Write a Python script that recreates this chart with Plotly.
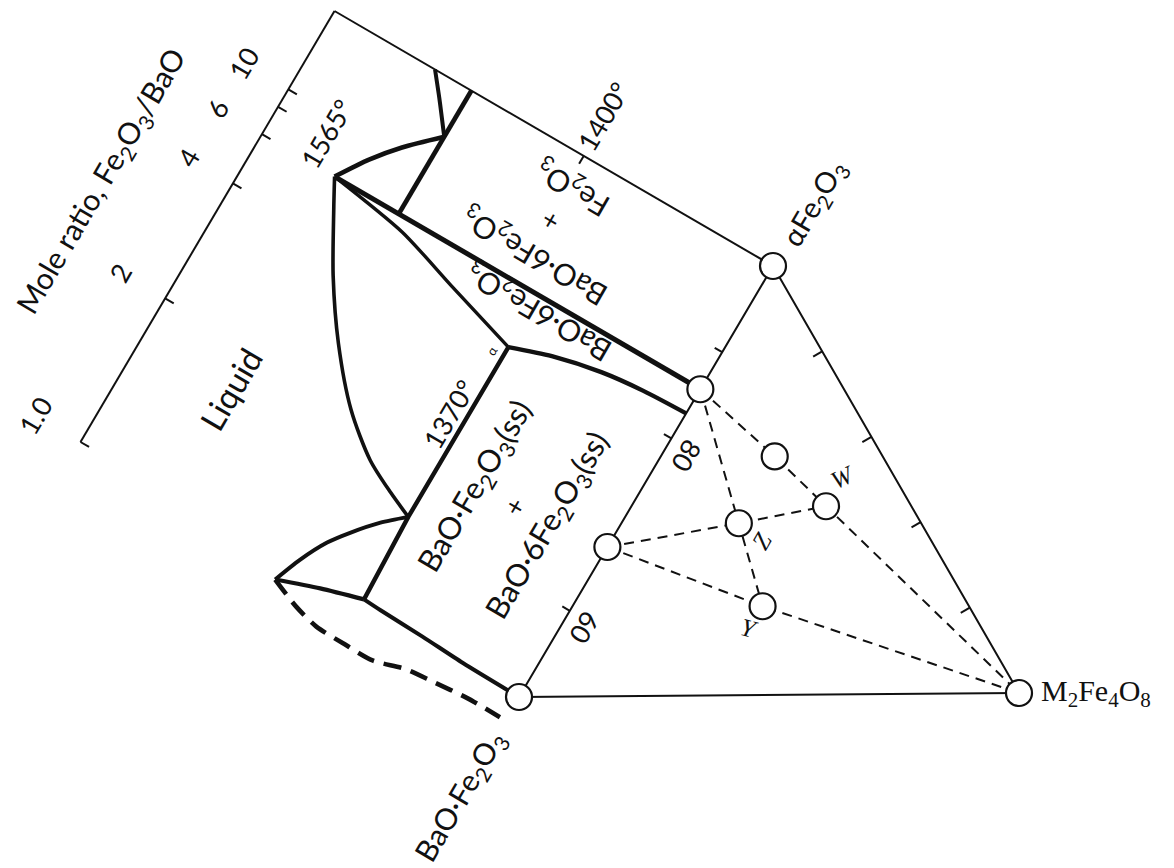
import numpy as np
import plotly.graph_objects as go

# ---------------- data ----------------
# Binary section BaO·Fe2O3 – Fe2O3 : composition in mol % Fe2O3, temperature in °C
T_EDGE = 1223          # temperature on the ternary base line
T_TOP = 1633           # temperature of the mole-ratio scale line
COMP_BAO1 = 50.0       # BaO·Fe2O3
COMP_BAO2 = 67.4       # circle on the edge (BaO·2Fe2O3)
COMP_BAO6 = 85.7       # BaO·6Fe2O3
T_MELT_BAO6 = 1565
T_TICK = 1400

mole_ratio_ticks = [1, 2, 4, 6, 8, 10]
mole_ratio_labels = {1: "1.0", 2: "2", 4: "4", 6: "6", 10: "10"}
edge_ticks = [60, 80, 90]
edge_tick_labels = {60: "60", 80: "80"}

# phase boundaries (comp, T)
liq_left_comp = [85.7, 82.8, 77.0, 71.5, 66.4, 63.0, 61.2, 60.0]
liq_left_T = [1565, 1552, 1525, 1494, 1458, 1424, 1396, 1374]

liq_j1_comp = [85.7, 88.9, 91.6, 94.65]
liq_j1_T = [1565, 1548, 1530, 1505]

liq_fe_comp = [100.0, 97.7, 94.65]
liq_fe_T = [1539, 1524, 1505]

iso1505_comp = [100.0, 94.65, 85.7]
iso1505_T = [1505, 1505, 1505]

liq_e_comp = [85.7, 84.3, 82.1, 79.7]
liq_e_T = [1565, 1495, 1438, 1374]

solvus6_comp = [79.7, 81.1, 82.2, 82.7, 82.9]
solvus6_T = [1374, 1340, 1299, 1262, 1223]

iso1370_comp = [79.7, 60.0, 50.65]
iso1370_T = [1374, 1374, 1371]

liq_b1_comp = [60.0, 58.1, 55.7, 53.7, 50.8, 47.9]
liq_b1_T = [1374, 1391, 1408, 1420, 1432, 1441]

k_j3_comp = [47.9, 49.4, 50.65]
k_j3_T = [1441, 1406, 1371]

solvus1_comp = [50.65, 50.54, 50.37, 50.12, 50.0]
solvus1_T = [1371, 1355, 1315, 1276, 1223]

dashed_comp = [47.9, 46.6, 45.9, 45.8, 45.8, 46.7, 47.0, 47.3, 47.3]
dashed_T = [1441, 1415, 1393, 1368, 1340, 1314, 1289, 1259, 1228]

# Ternary points (fractions of BaO·Fe2O3, αFe2O3, M2Fe4O8)
tern_names = ["BaO1", "Fe", "M", "BaO2", "BaO6", "P", "W", "Z", "Y"]
tern_a = [1.0, 0.0, 0.0, 1 - (COMP_BAO2 - 50) / 50, 1 - (COMP_BAO6 - 50) / 50, 0.215, 0.170, 0.363, 0.411]
tern_b = [0.0, 1.0, 0.0, (COMP_BAO2 - 50) / 50, (COMP_BAO6 - 50) / 50, 0.556, 0.439, 0.401, 0.207]
tern_c = [0.0, 0.0, 1.0, 0.0, 0.0, 0.229, 0.391, 0.236, 0.382]
tie_lines = [["BaO6", "P", "W", "M"], ["BaO6", "Z", "Y"], ["BaO2", "Z", "W"], ["BaO2", "Y", "M"]]
side_ticks_c = [0.2, 0.4, 0.6, 0.8]

# ---------------- geometry of the drawing ----------------
W_PX, H_PX = 1174, 868
ORIGIN = np.array([519.0, 697.0])          # BaO·Fe2O3 at T_EDGE
COMP_SPAN = np.array([254.0, -431.0])       # 50 -> 100 mol %
TEMP_SPAN = np.array([-438.5, -255.0])      # T_EDGE -> T_TOP
APEX_M = np.array([1019.0, 693.0])


def bxy(comp, T):
    comp = np.atleast_1d(np.asarray(comp, float))
    T = np.atleast_1d(np.asarray(T, float))
    s = (comp - 50.0) / 50.0
    t = (T - T_EDGE) / (T_TOP - T_EDGE)
    x = ORIGIN[0] + s * COMP_SPAN[0] + t * TEMP_SPAN[0]
    y = ORIGIN[1] + s * COMP_SPAN[1] + t * TEMP_SPAN[1]
    return x, y


VA = np.array([c[0] for c in bxy(50, T_EDGE)])
VB = np.array([c[0] for c in bxy(100, T_EDGE)])
VC = APEX_M


def txy(a, b, c):
    a, b, c = (np.atleast_1d(np.asarray(v, float)) for v in (a, b, c))
    p = np.outer(a, VA) + np.outer(b, VB) + np.outer(c, VC)
    return p[:, 0], p[:, 1]


ANG_COMP = float(np.degrees(np.arctan2(COMP_SPAN[1], COMP_SPAN[0])))   # ≈ -59.5
ANG_TEMP = float(np.degrees(np.arctan2(TEMP_SPAN[1], TEMP_SPAN[0])))   # ≈ -150

FONT = "Lato, Open Sans, sans-serif"
SERIF = "Liberation Serif, Times New Roman, serif"
BLACK = "#111"

fig = go.Figure()


def line(x, y, width, dash=None, shape="linear", smoothing=0.7):
    fig.add_trace(go.Scatter(x=x, y=y, mode="lines", hoverinfo="skip", showlegend=False,
                             line=dict(color=BLACK, width=width, dash=dash, shape=shape,
                                       smoothing=smoothing)))


# frame of the binary section
x, y = bxy([50, 100], [T_TOP, T_TOP]); line(x, y, 2)
x, y = bxy([100, 100], [T_TOP, T_EDGE]); line(x, y, 2)
for r in mole_ratio_ticks:
    cpos = 100 * r / (1 + r)
    x, y = bxy([cpos, cpos], [T_TOP, T_TOP - 8]); line(x, y, 2)
x, y = bxy([100, 99.1], [T_TICK, T_TICK]); line(x, y, 2)

# ternary triangle
tx, ty = txy([1, 0, 0, 1], [0, 1, 0, 0], [0, 0, 1, 0]); line(tx, ty, 2)
for c in edge_ticks:
    x, y = bxy([c, c], [T_EDGE, T_EDGE + 7]); line(x, y, 2)
for c in side_ticks_c:
    d = 0.024
    x, y = txy([0, d], [1 - c, 1 - c - d / 2], [c, c - d / 2]); line(x, y, 2)

# phase boundaries
x, y = bxy(liq_left_comp, liq_left_T); line(x, y, 3.6, shape="spline", smoothing=0.8)
x, y = bxy(liq_j1_comp, liq_j1_T); line(x, y, 4.6, shape="spline")
x, y = bxy(liq_fe_comp, liq_fe_T); line(x, y, 4.0, shape="spline")
x, y = bxy(iso1505_comp, iso1505_T); line(x, y, 4.8)
x, y = bxy([COMP_BAO6, COMP_BAO6], [T_MELT_BAO6, T_EDGE]); line(x, y, 5.0)
x, y = bxy(liq_e_comp, liq_e_T); line(x, y, 3.4, shape="spline")
x, y = bxy(solvus6_comp, solvus6_T); line(x, y, 4.4, shape="spline")
x, y = bxy(iso1370_comp, iso1370_T); line(x, y, 4.4)
x, y = bxy(liq_b1_comp, liq_b1_T); line(x, y, 4.0, shape="spline")
x, y = bxy(k_j3_comp, k_j3_T); line(x, y, 4.2, shape="spline")
x, y = bxy(solvus1_comp, solvus1_T); line(x, y, 4.0, shape="spline")
x, y = bxy(dashed_comp, dashed_T); line(x, y, 4.6, dash="18px,10px", shape="spline")

# tie lines in the ternary
idx = {n: i for i, n in enumerate(tern_names)}
for chain in tie_lines:
    ii = [idx[n] for n in chain]
    x, y = txy([tern_a[i] for i in ii], [tern_b[i] for i in ii], [tern_c[i] for i in ii])
    line(x, y, 2, dash="10px,7px")

# compound circles
x, y = txy(tern_a, tern_b, tern_c)
fig.add_trace(go.Scatter(x=x, y=y, mode="markers", hoverinfo="skip", showlegend=False,
                         marker=dict(size=26, color="white", line=dict(color=BLACK, width=2.2))))

ann = []


def label(text, x, y, angle=0, size=28, family=FONT, **kw):
    ann.append(dict(text=text, x=float(np.atleast_1d(x)[0]), y=float(np.atleast_1d(y)[0]),
                    xref="x", yref="y", showarrow=False, textangle=angle,
                    xanchor=kw.pop("xanchor", "center"), yanchor="middle",
                    font=dict(family=family, size=size, color=BLACK), **kw))


# mole ratio scale
for r, t in mole_ratio_labels.items():
    cpos = 100 * r / (1 + r)
    label(t, *bxy(cpos, T_TOP + 42), angle=ANG_COMP, size=27)
label("Mole ratio, Fe<sub>2</sub>O<sub>3</sub>/BaO", *bxy(73.6, T_TOP + 92), angle=ANG_COMP, size=30)

# temperatures
label("1565°", *bxy(89.0, 1588), angle=ANG_COMP, size=27)
label("1400°", *bxy(104.4, 1403), angle=ANG_COMP, size=27)
label("1370°", *bxy(70.9, 1388), angle=ANG_COMP, size=27)

# phase fields
label("Liquid", *bxy(62.1, 1550), angle=ANG_COMP, size=33)
label("BaO·Fe<sub>2</sub>O<sub>3</sub>(ss)", *bxy(66.0, 1339), angle=ANG_COMP, size=31)
label("+", *bxy(66.2, 1305), angle=ANG_COMP, size=27)
label("BaO·6Fe<sub>2</sub>O<sub>3</sub>(ss)", *bxy(66.2, 1273), angle=ANG_COMP, size=31)
label("Fe<sub>2</sub>O<sub>3</sub>", *bxy(96.7, 1395), angle=ANG_TEMP, size=30)
label("+", *bxy(92.6, 1397), angle=ANG_TEMP, size=27)
label("BaO·6Fe<sub>2</sub>O<sub>3</sub>", *bxy(88.8, 1393.5), angle=ANG_TEMP, size=30)
label("BaO·6Fe<sub>2</sub>O<sub>3</sub>", *bxy(84.3, 1367.5), angle=ANG_TEMP, size=30)
label("α", *bxy(78.5, 1384), angle=ANG_COMP, size=13)

# edge scale
for c, t in edge_tick_labels.items():
    label(t, *bxy(c - 0.7, 1205), angle=ANG_COMP + 180, size=27)

# vertices
label("BaO·Fe<sub>2</sub>O<sub>3</sub>", *bxy(38.4, T_EDGE), angle=ANG_COMP, size=30)
label("αFe<sub>2</sub>O<sub>3</sub>", *bxy(107.5, 1220), angle=ANG_COMP, size=29)
mx, my = txy(0, 0, 1)
label("M<sub>2</sub>Fe<sub>4</sub>O<sub>8</sub>", mx, my, size=30, family=SERIF,
      xanchor="left", xshift=20)

# W, Z, Y
for name, dx, dy, ang in [("W", 16, 29, -25), ("Z", 23, -17, -60), ("Y", -13, -22, 15)]:
    i = idx[name]
    px, py = txy(tern_a[i], tern_b[i], tern_c[i])
    label("<i>%s</i>" % name, px, py, angle=ang, size=25, family=SERIF, xshift=dx, yshift=dy)

fig.update_layout(
    width=W_PX, height=H_PX, margin=dict(l=0, r=0, t=0, b=0),
    paper_bgcolor="white", plot_bgcolor="white", annotations=ann, showlegend=False,
)
fig.update_xaxes(range=[0, W_PX], visible=False, fixedrange=True)
fig.update_yaxes(range=[H_PX, 0], visible=False, fixedrange=True)

fig.write_html("out.html")
